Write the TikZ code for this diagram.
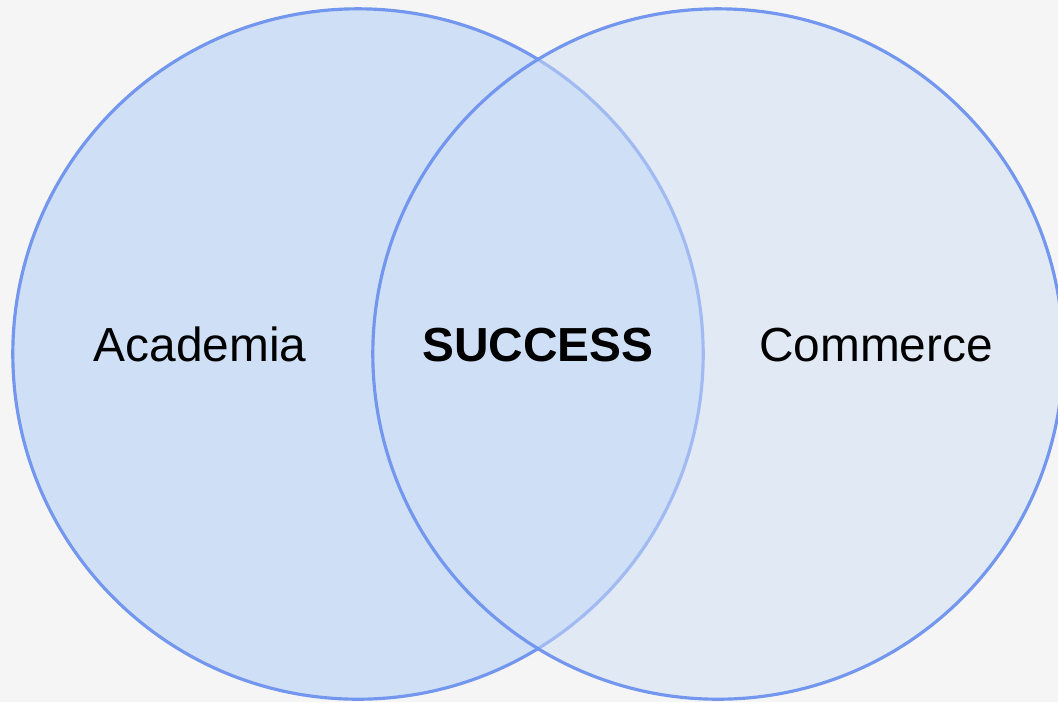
\documentclass[tikz,border=0pt]{standalone}
\usepackage{fontspec}
\setmainfont{Liberation Sans}
\usepackage{tikz}
\usetikzlibrary{positioning}
\definecolor{paper}{HTML}{F5F5F5}
\definecolor{ringline}{HTML}{7396EE}
\definecolor{ringfill}{HTML}{CFDFF6}
\tikzstyle{ring} = [circle, minimum size=6.9cm, inner sep=0pt, draw=ringline, line width=0.9pt, fill=ringfill]
\tikzstyle{label} = [font=\fontsize{13.6pt}{16pt}\selectfont, text=black]

\begin{document}
\begin{tikzpicture}[x=0.01cm, y=-0.01cm]
\fill[paper] (0,0) rectangle (1058,702);
\useasboundingbox (0,0) rectangle (1058,702);
\clip (0,0) rectangle (1058,702);
\node (Academia) [ring] at (358,354) {};
\node (Commerce) [ring, fill opacity=0.5] at (718,354) {};

\node (AcademiaText) [label] at (200,344) {Academia};
\node (Success) [label, font=\fontsize{13.6pt}{16pt}\selectfont\bfseries] at (538,345) {SUCCESS};
\node (CommerceText) [label] at (876,345) {Commerce};
\end{tikzpicture}
\end{document}
